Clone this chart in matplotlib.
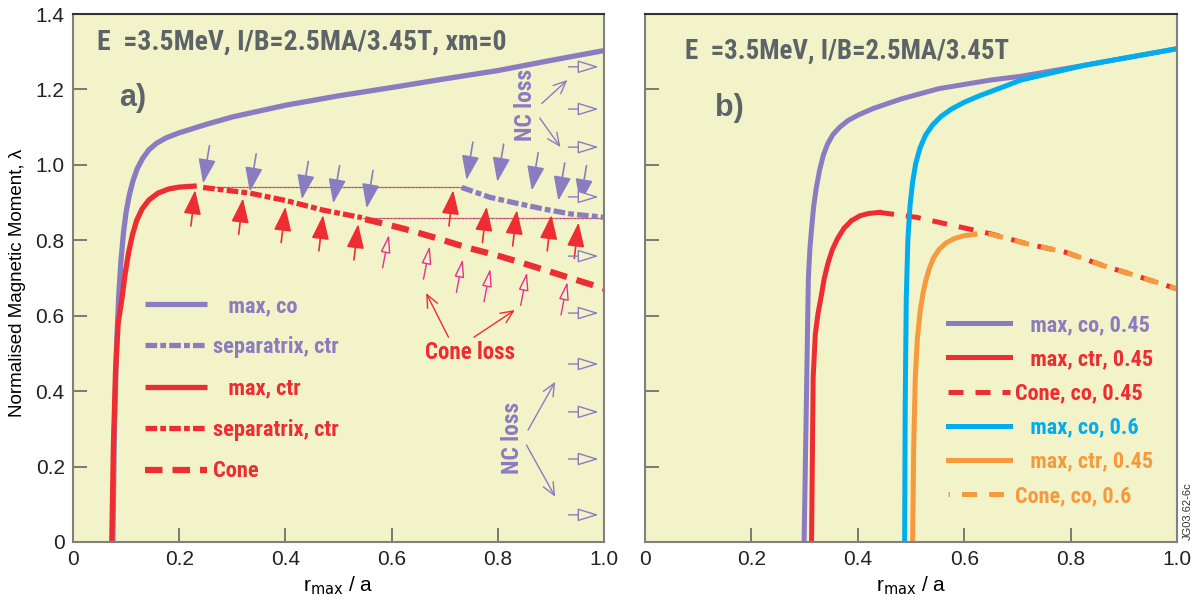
import matplotlib.pyplot as plt
import numpy as np
from matplotlib import font_manager

# curves for panel a)
co_max_x = [0.075, 0.078, 0.082, 0.086, 0.090, 0.095, 0.100, 0.106, 0.113, 0.121, 0.131, 0.143, 0.158,
            0.176, 0.20, 0.25, 0.30, 0.40, 0.50, 0.60, 0.70, 0.80, 0.90, 1.00]
co_max_y = [0.0, 0.30, 0.52, 0.65, 0.74, 0.82, 0.875, 0.92, 0.958, 0.99, 1.017, 1.04, 1.058,
            1.072, 1.085, 1.107, 1.127, 1.158, 1.183, 1.205, 1.228, 1.25, 1.277, 1.303]
ctr_max_x = [0.073, 0.076, 0.080, 0.085, 0.092, 0.098, 0.105, 0.112, 0.120, 0.130, 0.143, 0.160, 0.180,
             0.200, 0.233]
ctr_max_y = [0.0, 0.25, 0.45, 0.58, 0.645, 0.71, 0.77, 0.815, 0.853, 0.883, 0.907, 0.925, 0.936,
             0.941, 0.944]
ctr_sep_x = [0.245, 0.333, 0.402, 0.471, 0.544]
ctr_sep_y = [0.940, 0.925, 0.905, 0.880, 0.860]
co_sep_x = [0.732, 0.785, 0.836, 0.886, 0.936, 1.000]
co_sep_y = [0.940, 0.914, 0.898, 0.883, 0.870, 0.861]
cone_x = [0.550, 0.597, 0.635, 0.691, 0.741, 0.796, 0.848, 0.898, 0.952, 1.000]
cone_y = [0.856, 0.840, 0.826, 0.803, 0.781, 0.761, 0.739, 0.717, 0.693, 0.672]

# curves for panel b)
b_co45_x = [0.299, 0.303, 0.307, 0.310, 0.313, 0.317, 0.322, 0.328, 0.335, 0.343, 0.353, 0.366,
            0.382, 0.402, 0.430, 0.482, 0.552, 0.650, 0.707, 0.826, 1.000]
b_co45_y = [0.0, 0.35, 0.70, 0.78, 0.83, 0.89, 0.94, 0.985, 1.025, 1.055, 1.08, 1.10,
            1.118, 1.133, 1.15, 1.175, 1.202, 1.225, 1.235, 1.264, 1.308]
b_ctr45_x = [0.313, 0.316, 0.320, 0.325, 0.331, 0.337, 0.344, 0.352, 0.362, 0.374, 0.388, 0.404,
             0.420, 0.440]
b_ctr45_y = [0.0, 0.435, 0.55, 0.605, 0.65, 0.70, 0.74, 0.775, 0.805, 0.832, 0.852, 0.865,
             0.871, 0.874]
b_cone45_x = [0.440, 0.510, 0.580, 0.650, 0.720, 0.791, 0.861, 0.932, 1.000]
b_cone45_y = [0.874, 0.861, 0.839, 0.817, 0.790, 0.768, 0.733, 0.702, 0.671]
b_co6_x = [0.488, 0.489, 0.491, 0.494, 0.498, 0.503, 0.509, 0.517, 0.527, 0.540, 0.556, 0.576,
           0.600, 0.630, 0.670, 0.707, 0.826, 1.000]
b_co6_y = [0.0, 0.35, 0.644, 0.80, 0.89, 0.955, 1.005, 1.045, 1.078, 1.105, 1.128, 1.148,
           1.166, 1.184, 1.205, 1.225, 1.264, 1.308]
b_ctr6_x = [0.503, 0.505, 0.508, 0.512, 0.517, 0.522, 0.528, 0.535, 0.543, 0.553, 0.566, 0.582,
            0.600, 0.620]
b_ctr6_y = [0.0, 0.25, 0.435, 0.54, 0.61, 0.655, 0.695, 0.728, 0.755, 0.776, 0.793, 0.805,
            0.812, 0.816]
b_cone6_x = [0.620, 0.650, 0.720, 0.791, 0.861, 0.932, 1.000]
b_cone6_y = [0.816, 0.816, 0.790, 0.768, 0.733, 0.702, 0.671]

# loss arrows in panel a)
down_tip_x = [0.245, 0.333, 0.431, 0.490, 0.553, 0.741, 0.799, 0.864, 0.914, 0.955]
down_tip_y = [0.951, 0.929, 0.909, 0.898, 0.885, 0.960, 0.955, 0.932, 0.905, 0.898]
up_tip_x = [0.230, 0.320, 0.400, 0.471, 0.537, 0.716, 0.779, 0.836, 0.901, 0.952]
up_tip_y = [0.933, 0.911, 0.889, 0.867, 0.843, 0.933, 0.889, 0.880, 0.867, 0.847]
cone_tip_x = [0.595, 0.672, 0.734, 0.786, 0.855, 0.931]
cone_tip_y = [0.815, 0.785, 0.750, 0.725, 0.715, 0.690]
nc_arrow_y = [1.26, 1.148, 1.047, 0.915, 0.758, 0.607, 0.472, 0.345, 0.22, 0.072]

xticks = [0, 0.2, 0.4, 0.6, 0.8, 1.0]
xticklabels = ['0', '0.2', '0.4', '0.6', '0.8', '1.0']
yticks = [0, 0.2, 0.4, 0.6, 0.8, 1.0, 1.2, 1.4]
yticklabels = ['0', '0.2', '0.4', '0.6', '0.8', '1.0', '1.2', '1.4']

PURPLE = '#8a7cc0'
RED = '#ee2d33'
PINK = '#e8318e'
CYAN = '#00aeef'
ORANGE = '#f59a3e'
GREY = '#5c6468'
BG = '#f3f3c9'

# condensed face for the annotations
names = {f.name for f in font_manager.fontManager.ttflist}
NARROW = next((n for n in ['Roboto Condensed', 'Archivo Narrow', 'Barlow Condensed', 'Liberation Sans Narrow']
               if n in names), 'DejaVu Sans')
plt.rcParams['font.family'] = ['Liberation Sans', 'DejaVu Sans']
label_font = dict(family=[NARROW, 'DejaVu Sans'], fontweight='bold')

fig = plt.figure(figsize=(12.03, 6.01), dpi=100)
renderer = fig.canvas.get_renderer()


def fit_size(s, width_px, size0=16):
    # font size that makes the string span width_px pixels
    probe = fig.text(0, 0, s, fontsize=size0, **label_font)
    w = probe.get_window_extent(renderer=renderer).width
    probe.remove()
    return size0 * width_px / w


ax1 = fig.add_axes([0.0607, 0.0982, 0.4414, 0.8785])
ax2 = fig.add_axes([0.5362, 0.0982, 0.4422, 0.8785])

for ax in (ax1, ax2):
    ax.set_facecolor(BG)
    ax.set_xlim(0, 1.0)
    ax.set_ylim(0, 1.4)
    ax.set_xticks(xticks)
    ax.set_xticklabels(xticklabels)
    ax.set_yticks(yticks)
    ax.tick_params(direction='in', length=10, width=1.2, color='#666666',
                   labelsize=15, labelcolor='#222222', pad=6)
    for side in ('left', 'bottom', 'right'):
        ax.spines[side].set_color('#808080')
        ax.spines[side].set_linewidth(1.5)
    ax.spines['top'].set_color('#333333')
    ax.spines['top'].set_linewidth(1.5)
    ax.set_xlabel(r'r$_{\mathrm{max}}$ / a', fontsize=15, labelpad=4)

ax1.set_yticklabels(yticklabels)
ax2.set_yticklabels([])
ax1.set_ylabel('Normalised Magnetic Moment, λ', fontsize=13.5)
ax1.yaxis.set_label_coords(-0.088, 0.49)

# ---- panel a) ----
# thin dotted connecting levels
ax1.hlines(co_sep_y[0], ctr_sep_x[0], co_sep_x[0], colors=PURPLE, linestyles=(0, (1.5, 1.5)), lw=0.9)
ax1.hlines(co_sep_y[0], ctr_sep_x[0], co_sep_x[0], colors=RED, linestyles=(1.5, (1.5, 1.5)), lw=0.9)
ax1.hlines(ctr_sep_y[-1], ctr_sep_x[-1], 1.0, colors=PURPLE, linestyles=(0, (1.5, 1.5)), lw=0.9)
ax1.hlines(ctr_sep_y[-1], ctr_sep_x[-1], 1.0, colors=RED, linestyles=(1.5, (1.5, 1.5)), lw=0.9)

sep_dash = (0, (2.2, 0.6, 1.1, 0.6))
ax1.plot(co_max_x, co_max_y, color=PURPLE, lw=3.8, solid_capstyle='butt', label='   max, co')
ax1.plot(co_sep_x, co_sep_y, color=PURPLE, lw=3.8, linestyle=sep_dash, label='separatrix, ctr')
ax1.plot(ctr_max_x, ctr_max_y, color=RED, lw=3.8, solid_capstyle='butt', label='   max, ctr')
ax1.plot(ctr_sep_x, ctr_sep_y, color=RED, lw=3.8, linestyle=sep_dash, label='separatrix, ctr')
ax1.plot(cone_x, cone_y, color=RED, lw=4.5, linestyle=(0, (2.8, 1.6)), label='Cone')

leg_a_size = fit_size('separatrix, ctr', 126)
ax1.legend(loc='upper left', bbox_to_anchor=(0.135, 0.468), frameon=False, borderpad=0,
           borderaxespad=0, handlelength=2.9 * 15.5 / leg_a_size, handletextpad=0.25,
           labelspacing=0.9 * 15.5 / leg_a_size,
           labelcolor=[PURPLE, PURPLE, RED, RED, RED],
           prop={'family': [NARROW, 'DejaVu Sans'], 'weight': 'bold', 'size': leg_a_size})

# filled arrows onto the separatrix lines
for x, y in zip(down_tip_x, down_tip_y):
    ax1.annotate('', xy=(x, y), xytext=(x + 0.012, y + 0.10),
                 arrowprops=dict(arrowstyle='-|>,head_length=0.75,head_width=0.27',
                                 mutation_scale=20, color=PURPLE, lw=1.2, shrinkA=0, shrinkB=0))
for x, y in zip(up_tip_x, up_tip_y):
    ax1.annotate('', xy=(x, y), xytext=(x - 0.008, y - 0.095),
                 arrowprops=dict(arrowstyle='-|>,head_length=0.75,head_width=0.27',
                                 mutation_scale=20, color=RED, lw=1.2, shrinkA=0, shrinkB=0))
# open arrows onto the cone boundary
for x, y in zip(cone_tip_x, cone_tip_y):
    ax1.annotate('', xy=(x, y), xytext=(x - 0.012, y - 0.088),
                 arrowprops=dict(arrowstyle='-|>,head_length=0.55,head_width=0.15',
                                 mutation_scale=20, fc=BG, ec=PINK, lw=1.0, shrinkA=0, shrinkB=0))
# open arrows leaving through the edge
for y in nc_arrow_y:
    ax1.annotate('', xy=(0.99, y), xytext=(0.933, y),
                 arrowprops=dict(arrowstyle='-|>,head_length=0.65,head_width=0.2',
                                 mutation_scale=20, fc=BG, ec=PURPLE, lw=1.0, shrinkA=0, shrinkB=0))

nc_size = fit_size('NC loss', 72)
ax1.text(0.853, 1.159, 'NC loss', rotation=90, color=PURPLE, fontsize=nc_size, ha='center', va='center', **label_font)
ax1.text(0.827, 0.277, 'NC loss', rotation=90, color=PURPLE, fontsize=nc_size, ha='center', va='center', **label_font)
ax1.text(0.748, 0.503, 'Cone loss', color=RED, fontsize=fit_size('Cone loss', 90),
         ha='center', va='center', **label_font)

thin = dict(arrowstyle='->,head_length=0.45,head_width=0.2', mutation_scale=20, lw=1.0, shrinkA=0, shrinkB=0)
for start, tip in [((0.883, 1.163), (0.931, 1.225)), ((0.879, 1.124), (0.918, 1.047)),
                   ((0.857, 0.297), (0.908, 0.425)), ((0.854, 0.257), (0.908, 0.120))]:
    ax1.annotate('', xy=tip, xytext=start, arrowprops=dict(thin, color=PURPLE))
for start, tip in [((0.707, 0.543), (0.665, 0.660)), ((0.755, 0.543), (0.832, 0.615))]:
    ax1.annotate('', xy=tip, xytext=start, arrowprops=dict(thin, color=RED))

title_a = 'E  =3.5MeV, I/B=2.5MA/3.45T, xm=0'
ax1.text(0.046, 0.972, title_a, transform=ax1.transAxes, color=GREY,
         fontsize=fit_size(title_a, 410), ha='left', va='top', **label_font)
ax1.text(0.087, 0.87, 'a)', transform=ax1.transAxes, color=GREY, fontsize=22,
         ha='left', va='top', fontweight='bold', family='Liberation Sans')

# ---- panel b) ----
ax2.plot(b_co45_x, b_co45_y, color=PURPLE, lw=3.6, label='   max, co, 0.45')
ax2.plot(b_ctr45_x, b_ctr45_y, color=RED, lw=3.6, label='   max, ctr, 0.45')
ax2.plot(b_cone45_x, b_cone45_y, color=RED, lw=3.6, linestyle=(0, (3.0, 2.4)), label='Cone, co, 0.45')
ax2.plot(b_co6_x, b_co6_y, color=CYAN, lw=3.6, label='   max, co, 0.6')
ax2.plot(b_ctr6_x, b_ctr6_y, color=ORANGE, lw=3.6, label='   max, ctr, 0.45')
ax2.plot(b_cone6_x, b_cone6_y, color=ORANGE, lw=3.6, linestyle=(2.7, (3.0, 2.4)), label='Cone, co, 0.6')

leg_b_size = fit_size('Cone, co, 0.45', 128)
ax2.legend(loc='upper left', bbox_to_anchor=(0.5695, 0.432), frameon=False, borderpad=0,
           borderaxespad=0, handlelength=62 / (leg_b_size * 100 / 72), handletextpad=0.22,
           labelspacing=0.55 * 16 / leg_b_size,
           labelcolor=[PURPLE, RED, RED, CYAN, ORANGE, ORANGE],
           prop={'family': [NARROW, 'DejaVu Sans'], 'weight': 'bold', 'size': leg_b_size})

title_b = 'E  =3.5MeV, I/B=2.5MA/3.45T'
ax2.text(0.075, 0.955, title_b, transform=ax2.transAxes, color=GREY,
         fontsize=fit_size(title_b, 325), ha='left', va='top', **label_font)
ax2.text(0.132, 0.85, 'b)', transform=ax2.transAxes, color=GREY, fontsize=22,
         ha='left', va='top', fontweight='bold', family='Liberation Sans')

fig.text(0.987, 0.102, 'JG03.62-6c', rotation=90, fontsize=8, color='#333333', ha='center', va='bottom')

fig.savefig('out.png', dpi=100, facecolor='white')
